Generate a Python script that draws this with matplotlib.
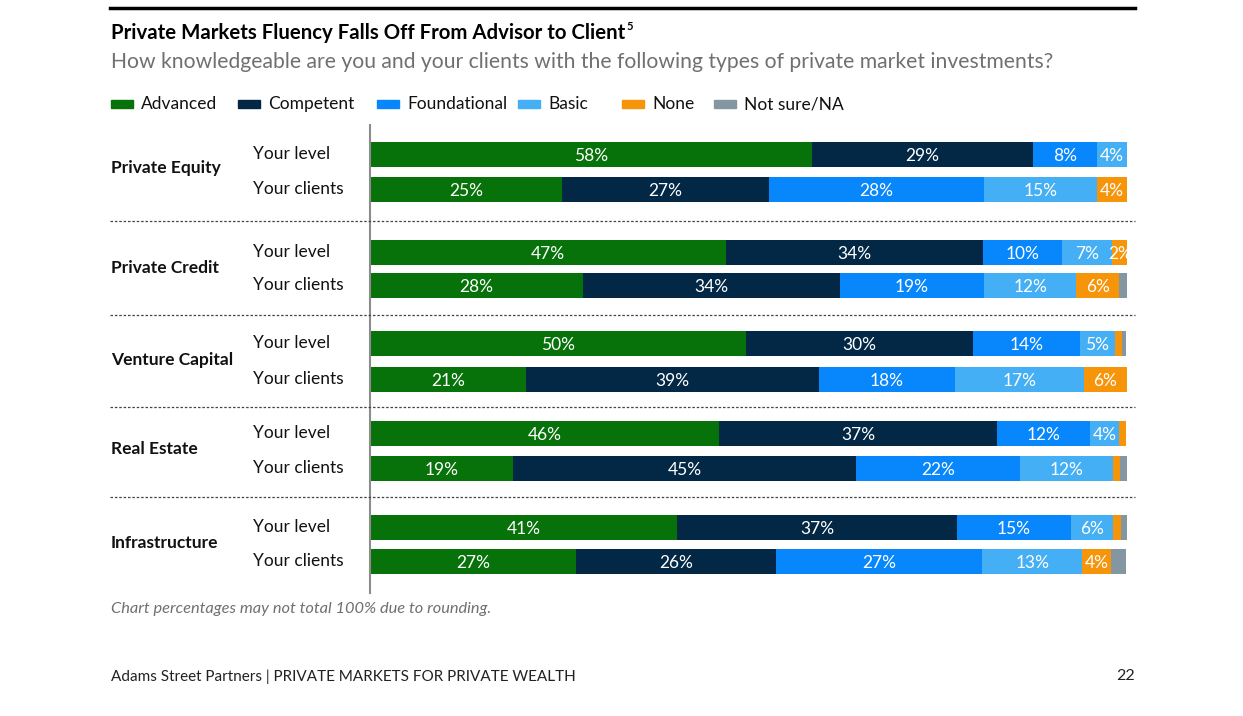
import numpy as np
import matplotlib.pyplot as plt
from matplotlib.lines import Line2D
from matplotlib.patches import Rectangle

# ── Data (shares in %) ─────────────────────────────────────────
categories = ['Private Equity', 'Private Credit', 'Venture Capital',
              'Real Estate', 'Infrastructure']
row_labels = ['Your level', 'Your clients']
levels = ['Advanced', 'Competent', 'Foundational', 'Basic', 'None',
          'Not sure/NA']
colors = ['#077209', '#022845', '#0787fb', '#44aff4', '#f7950a', '#8596a3']

advanced     = [58.4, 25.4, 47.0, 28.1, 49.7, 20.6, 46.1, 18.9, 40.6, 27.2]
competent    = [29.2, 27.3, 34.0, 34.0, 30.0, 38.7, 36.7, 45.3, 36.9, 26.4]
foundational = [8.4, 28.4, 10.4, 19.0, 14.1, 18.0, 12.3, 21.7, 15.1, 27.3]
basic        = [4.0, 14.9, 6.6, 12.2, 4.6, 17.0, 3.8, 12.3, 5.6, 13.2]
none_        = [0.0, 4.0, 2.1, 5.7, 1.0, 5.7, 1.0, 0.9, 1.0, 3.8]
not_sure     = [0.0, 0.0, 0.0, 1.0, 0.5, 0.0, 0.0, 0.9, 1.0, 2.0]
series = [advanced, competent, foundational, basic, none_, not_sure]

# ── Layout (pixel units, figure 1243 x 716) ────────────────────
W, H = 1243, 716
plt.rcParams['font.family'] = ['Lato', 'DejaVu Sans']

fig = plt.figure(figsize=(W / 100, H / 100), dpi=100)
ax_l, ax_r, ax_t, ax_b = 370, 1127, 125, 593
ax = fig.add_axes([ax_l / W, 1 - ax_b / H, (ax_r - ax_l) / W,
                   (ax_b - ax_t) / H])
ax.set_xlim(0, 100)
ax.set_ylim(ax_b, ax_t)
ax.axis('off')

row_y = [155, 190, 253, 286, 344, 380, 434, 469, 528, 562]
group_y = [168, 268, 360, 449, 543]
sep_y = [221, 315, 407, 497]

left = np.zeros(len(row_y))
for k, vals in enumerate(series):
    vals = np.array(vals, dtype=float)
    ax.barh(row_y, vals, left=left, height=25, color=colors[k],
            edgecolor='none')
    if k < 5:
        for y, l, v in zip(row_y, left, vals):
            if v >= 1.5:
                ax.text(l + v / 2, y + 1, f'{v:.0f}%', ha='center',
                        va='center', color='white', fontsize=12.5,
                        clip_on=True)
    left += vals

# vertical axis line
fig.add_artist(Line2D([ax_l / W, ax_l / W], [1 - ax_t / H, 1 - ax_b / H],
                      color='#8c8c8c', lw=1.5))

# dotted separators
for y in sep_y:
    fig.add_artist(Line2D([110 / W, 1135 / W], [1 - y / H, 1 - y / H],
                          color='#444444', lw=0.9, ls=(0, (2, 1.5))))

# row and group labels
for i, y in enumerate(row_y):
    fig.text(253 / W, 1 - (y - 1) / H, row_labels[i % 2], fontsize=12.5,
             va='center', ha='left', color='#111111')
for c, y in zip(categories, group_y):
    fig.text(111 / W, 1 - y / H, c, fontsize=12.5, fontweight='bold',
             va='center', ha='left', color='#111111')

# ── Header ─────────────────────────────────────────────────────
fig.add_artist(Line2D([110 / W, 1135 / W], [1 - 8 / H, 1 - 8 / H],
                      color='black', lw=2.5))
title = fig.text(111 / W, 1 - 33 / H,
                 'Private Markets Fluency Falls Off From Advisor to Client',
                 fontsize=14.7, fontweight='bold', va='center', ha='left')
fig.canvas.draw()
bb = title.get_window_extent()
fig.text((bb.x1 + 1) / W, 1 - 27 / H, '5', fontsize=8, fontweight='bold',
         va='center', ha='left')
fig.text(111 / W, 1 - 62 / H,
         'How knowledgeable are you and your clients with the following '
         'types of private market investments?',
         fontsize=15.2, color='#707070', va='center', ha='left')

# legend
leg_x = [111, 238, 377, 518, 622, 714]
for name, col, x in zip(levels, colors, leg_x):
    fig.add_artist(Rectangle((x / W, 1 - 108 / H), 22 / W, 8 / H,
                             color=col, transform=fig.transFigure))
    fig.text((x + 30) / W, 1 - 104 / H, name, fontsize=12.5,
             va='center', ha='left', color='#111111')

# ── Footer ─────────────────────────────────────────────────────
fig.text(111 / W, 1 - 609 / H,
         'Chart percentages may not total 100% due to rounding.',
         fontsize=11.8, style='italic', color='#707070', va='center')
fig.text(111 / W, 1 - 677 / H,
         'Adams Street Partners | PRIVATE MARKETS FOR PRIVATE WEALTH',
         fontsize=11, color='#222222', va='center')
fig.text(1135 / W, 1 - 676 / H, '22', fontsize=11.5, color='#222222',
         va='center', ha='right')

fig.savefig('out.png', dpi=100)
